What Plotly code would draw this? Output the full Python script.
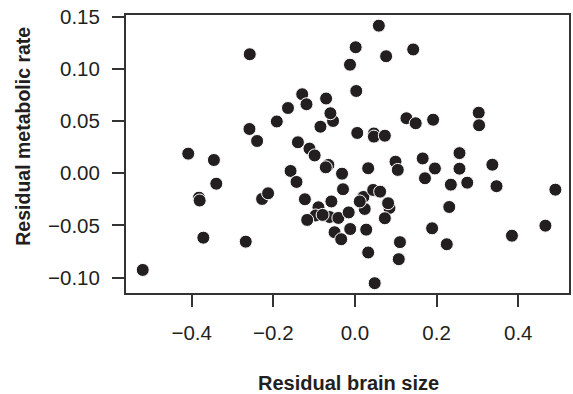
import plotly.graph_objects as go

brain_size = [
    -0.520, -0.4085, -0.3456, -0.3398, -0.3822, -0.3805, -0.3715, -0.2676, -0.2276, -0.2129,
    -0.2578, -0.2585, -0.2398, -0.1915, 0.0585, 0.0017, 0.0763, 0.1427, -0.0122, 0.0032,
    -0.1293, -0.1641, -0.1188, -0.0707, -0.0537, -0.0602, -0.0846, 0.0056, 0.0463, 0.0463,
    0.0732, 0.1261, 0.1488, 0.1915, 0.3032, 0.3041, -0.1398, -0.1115, -0.0988, 0.1659,
    0.2561, -0.0651, -0.0715, -0.1578, -0.1432, -0.0317, 0.0324, 0.0993, 0.1049, -0.0293,
    -0.1227, -0.0578, -0.0895, -0.0963, -0.0622, -0.0793, -0.1171, -0.0407, -0.0154, 0.0207,
    0.0239, 0.0117, 0.0446, 0.0617, 0.0846, 0.0812, 0.0732, -0.0500, -0.0337, -0.0117,
    0.0276, 0.0324, 0.1102, 0.1073, 0.0483, 0.1959, 0.1715, 0.2561, 0.2349, 0.2751,
    0.3366, 0.3468, 0.4910, 0.2310, 0.1890, 0.2249, 0.3846, 0.4666,
]
metabolic_rate = [
    -0.0926, 0.0188, 0.0127, -0.0100, -0.0234, -0.0261, -0.0617, -0.0655, -0.0246, -0.0192,
    0.1140, 0.0424, 0.0309, 0.0496, 0.1414, 0.1207, 0.1121, 0.1186, 0.1040, 0.0788,
    0.0757, 0.0625, 0.0661, 0.0716, 0.0501, 0.0575, 0.0446, 0.0386, 0.0381, 0.0351,
    0.0360, 0.0527, 0.0479, 0.0513, 0.0580, 0.0460, 0.0297, 0.0236, 0.0171, 0.0142,
    0.0193, 0.0080, 0.0057, 0.0022, -0.0083, -0.0004, 0.0048, 0.0111, 0.0032, -0.0153,
    -0.0249, -0.0270, -0.0326, -0.0404, -0.0419, -0.0399, -0.0447, -0.0428, -0.0375, -0.0227,
    -0.0342, -0.0270, -0.0160, -0.0176, -0.0332, -0.0287, -0.0431, -0.0565, -0.0632, -0.0534,
    -0.0540, -0.0759, -0.0660, -0.0823, -0.1053, 0.0046, -0.0048, 0.0044, -0.0109, -0.0090,
    0.0082, -0.0124, -0.0157, -0.0323, -0.0527, -0.0680, -0.0598, -0.0502,
]

x_ticks = [-0.4, -0.2, 0.0, 0.2, 0.4]
x_tick_labels = ["\u22120.4", "\u22120.2", "0.0", "0.2", "0.4"]
y_ticks = [-0.10, -0.05, 0.00, 0.05, 0.10, 0.15]
y_tick_labels = ["\u22120.10", "\u22120.05", "0.00", "0.05", "0.10", "0.15"]

FONT = "Liberation Sans, Arial, sans-serif"
TXT = "#231f20"
LINE = "#333333"

fig = go.Figure(go.Scatter(
    x=brain_size, y=metabolic_rate, mode="markers",
    marker=dict(size=13, color="#231f20", line=dict(color="white", width=1)),
    hoverinfo="skip",
))

axis_common = dict(
    showgrid=False, zeroline=False, showline=True, mirror=True,
    linecolor=LINE, linewidth=2, ticks="outside", ticklen=12, tickwidth=2,
    tickcolor=LINE, tickfont=dict(family=FONT, size=20.5, color=TXT),
    ticklabelstandoff=8,
)

fig.update_layout(
    width=573, height=394,
    margin=dict(l=126, r=2, t=15, b=101),
    paper_bgcolor="white", plot_bgcolor="white",
    showlegend=False,
    xaxis=dict(range=[-0.561, 0.5244], tickvals=x_ticks, ticktext=x_tick_labels, **axis_common),
    yaxis=dict(range=[-0.1147, 0.1516], tickvals=y_ticks, ticktext=y_tick_labels, **axis_common),
    annotations=[
        dict(text="<b>Residual brain size</b>", xref="paper", yref="paper",
             x=0.503, y=-0.322, xanchor="center", yanchor="middle", showarrow=False,
             font=dict(family=FONT, size=20, color=TXT)),
        dict(text="<b>Residual metabolic rate</b>", xref="paper", yref="paper",
             x=-0.232, y=0.563, xanchor="center", yanchor="middle", showarrow=False,
             textangle=-90, font=dict(family=FONT, size=19.5, color=TXT)),
    ],
)

fig.write_html("out.html")
